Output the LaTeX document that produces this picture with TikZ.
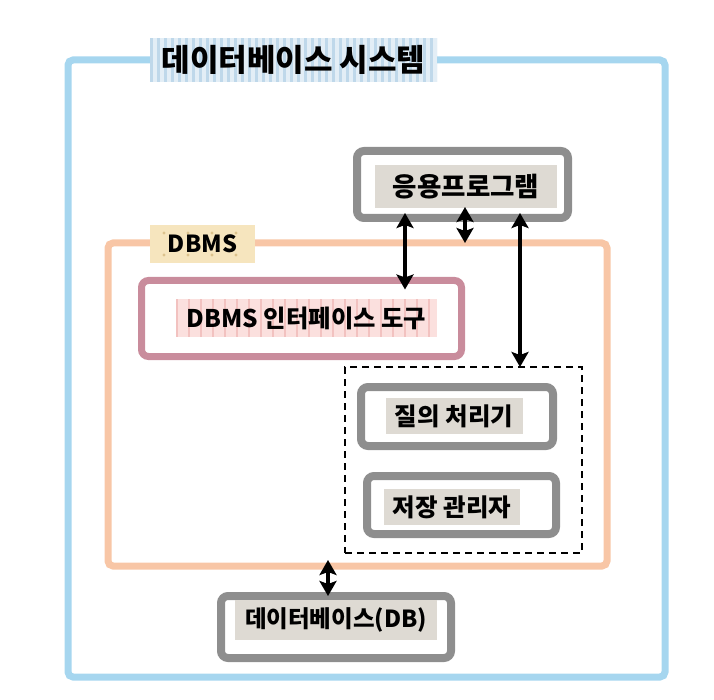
\documentclass[tikz,border=0pt]{standalone}
\usepackage{fontspec}
\newfontfamily\kr{Noto Sans CJK KR}
\usetikzlibrary{arrows.meta}
\definecolor{skyb}{HTML}{A6D6EF}
\definecolor{orng}{HTML}{F8C6A6}
\definecolor{pinkb}{HTML}{C98C9C}
\definecolor{grayb}{HTML}{8E8E8E}
\definecolor{stone}{HTML}{DEDAD3}
\definecolor{titlebg}{HTML}{E3EEF6}
\definecolor{titlestr}{HTML}{BFD8EA}
\definecolor{pinkbg}{HTML}{FBE0DE}
\definecolor{pinkstr}{HTML}{F2C2C0}
\definecolor{beige}{HTML}{F6E5BE}
\definecolor{beigedot}{HTML}{DCC28C}
\tikzset{
  frame/.style={draw, line width=7pt, rounded corners=5pt, outer sep=0pt, inner sep=0pt},
  graybox/.style={draw=grayb, line width=8pt, rounded corners=7pt, outer sep=0pt, inner sep=0pt},
  stonetext/.style={fill=stone, inner sep=0pt, outer sep=0pt, font=\kr\bfseries\fontsize{24.5}{28}\selectfont, text=black},
  dbl/.style={line width=3.5pt, {Stealth[length=15pt,width=17pt,inset=3pt]}-{Stealth[length=15pt,width=17pt,inset=3pt]}},
  stripes/.style n args={3}{path picture={
    \foreach \k in {0,#2,...,400}{
      \fill[#1] ([xshift=\k pt]path picture bounding box.north west) rectangle ([xshift=\k pt+#3 pt]path picture bounding box.south west);}}},
}
\begin{document}
\begin{tikzpicture}[x=1pt,y=-1pt]
\useasboundingbox (0,0) rectangle (714,700);
% outer system frame
\node[frame, draw=skyb, minimum width=597pt, minimum height=617pt] (sys) at (366.5,368.5) {};
\node[fill=titlebg, stripes={titlestr}{7}{2.5}, minimum width=287pt, minimum height=44pt, inner sep=0pt,
      font=\kr\bfseries\fontsize{31}{34}\selectfont] (systitle) at (293.5,60) {데이터베이스 시스템};
% DBMS frame
\node[frame, draw=orng, minimum width=499pt, minimum height=323pt] (dbms) at (357.5,404.5) {};
\node[fill=beige, minimum width=105pt, minimum height=38pt, inner sep=0pt,
      path picture={\foreach \dx in {14,38,62,86}{\foreach \dy in {8,30}{
        \fill[beigedot] ([xshift=\dx pt, yshift=-\dy pt]path picture bounding box.north west) circle (1.6pt);}}},
      font=\kr\bfseries\fontsize{23.5}{26}\selectfont] (dbmslabel) at (202.5,244) {DBMS};
% application
\node[graybox, minimum width=211pt, minimum height=67pt] (app) at (462.5,184.5) {};
\node[stonetext, minimum width=182pt, minimum height=43pt, font=\kr\bfseries\fontsize{26.5}{30}\selectfont] (appt) at (466,186.5) {응용프로그램};
% interface tool
\node[frame, draw=pinkb, minimum width=320pt, minimum height=76pt, rounded corners=7pt] (ifc) at (301.5,318.5) {};
\node[fill=pinkbg, stripes={pinkstr}{12}{1.5}, minimum width=261pt, minimum height=38pt, inner sep=0pt,
      font=\kr\bfseries\fontsize{24.3}{28}\selectfont] (ifct) at (306.5,318) {DBMS 인터페이스 도구};
% dashed group
\node[draw, dashed, dash pattern=on 7pt off 5pt, line width=1.5pt, minimum width=237pt, minimum height=186pt, outer sep=0pt] (core) at (463.5,460) {};
\node[graybox, minimum width=192pt, minimum height=59pt] (qp) at (457,416.5) {};
\node[stonetext, minimum width=137pt, minimum height=36pt] (qpt) at (454,416) {질의 처리기};
\node[graybox, minimum width=189pt, minimum height=58pt] (sm) at (461.5,505) {};
\node[stonetext, minimum width=136pt, minimum height=36pt] (smt) at (452,507) {저장 관리자};
% database
\node[graybox, minimum width=230pt, minimum height=62pt] (db) at (336,627) {};
\node[stonetext, minimum width=202pt, minimum height=40pt, font=\kr\bfseries\fontsize{23.5}{27}\selectfont] (dbt) at (336,620) {데이터베이스(DB)};
% connectors
\draw[dbl, shorten <=-5pt, shorten >=-9pt] ([xshift=-57.5pt]app.south) -- ([xshift=-57.5pt]app.south |- ifc.north);
\draw[dbl, shorten <=-11pt] ([xshift=2.5pt]app.south) -- ([xshift=2.5pt]app.south |- dbms.north);
\draw[dbl, shorten <=-5pt] ([xshift=57.5pt]app.south) -- ([xshift=57.5pt]app.south |- core.north);
\draw[dbl, shorten <=-6pt] ([xshift=-8pt]db.north |- dbms.south) -- ([xshift=-8pt]db.north);
\end{tikzpicture}
\end{document}
